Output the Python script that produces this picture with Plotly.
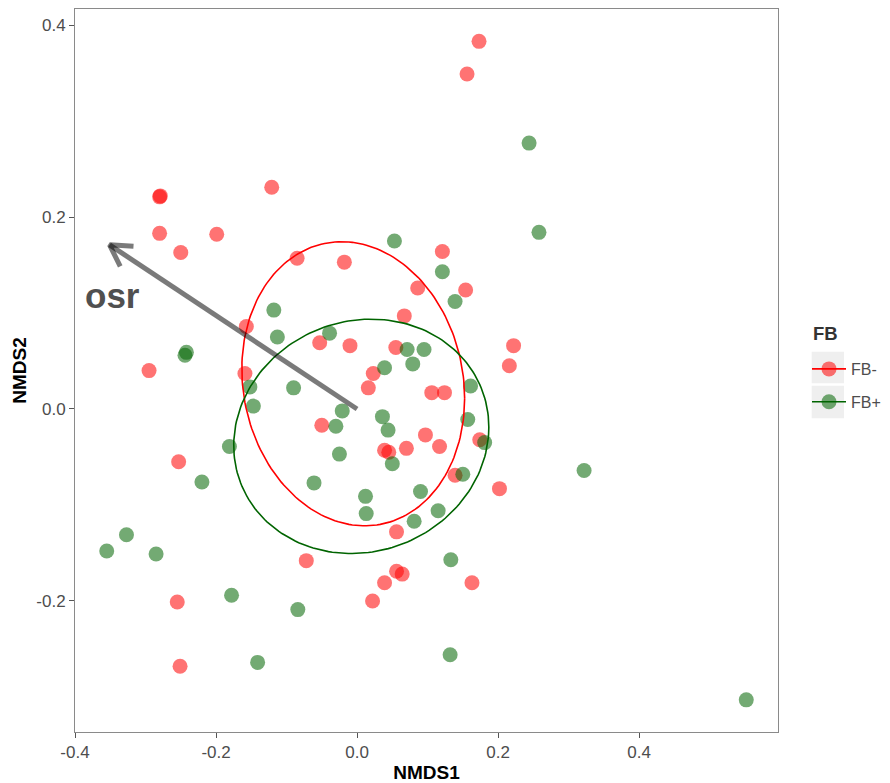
import numpy as np
import plotly.graph_objects as go

# ---------------- data ----------------
fbm_x = [0.173, 0.156, -0.280, -0.279, -0.121, -0.280, -0.199, -0.250, -0.085, -0.018,
         0.121, 0.086, 0.154, -0.157, 0.067, -0.053, -0.010, 0.055, 0.222, 0.216,
         -0.295, -0.159, 0.023, 0.016, 0.106, 0.124, -0.050, 0.097, 0.039, 0.045,
         0.070, 0.117, 0.174, 0.139, 0.202, -0.253, 0.056, -0.072, 0.056, 0.064,
         0.039, 0.163, 0.022, -0.255, -0.251]
fbm_y = [0.383, 0.349, 0.221, 0.222, 0.231, 0.183, 0.182, 0.163, 0.157, 0.153,
         0.164, 0.126, 0.124, 0.086, 0.097, 0.069, 0.066, 0.064, 0.066, 0.045,
         0.040, 0.037, 0.037, 0.022, 0.017, 0.017, -0.017, -0.027, -0.043, -0.045,
         -0.041, -0.039, -0.032, -0.069, -0.083, -0.055, -0.128, -0.158, -0.169, -0.172,
         -0.181, -0.181, -0.200, -0.201, -0.268]

fbp_x = [0.244, 0.258, 0.053, 0.121, 0.139, 0.071, 0.095, 0.079, 0.039, 0.161,
         -0.118, -0.113, -0.039, -0.152, -0.090, -0.147, -0.021, -0.030, -0.181, -0.025,
         -0.061, 0.012, 0.013, 0.036, 0.044, 0.157, 0.181, 0.050, 0.150, 0.090,
         0.115, 0.081, 0.133, 0.132, 0.552, -0.355, -0.327, -0.285, -0.178, -0.084,
         -0.141, -0.244, -0.242, -0.220, 0.322]
fbp_y = [0.277, 0.184, 0.175, 0.143, 0.112, 0.062, 0.062, 0.047, 0.043, 0.024,
         0.103, 0.075, 0.079, 0.023, 0.022, 0.003, -0.002, -0.018, -0.039, -0.047,
         -0.077, -0.091, -0.109, -0.008, -0.022, -0.011, -0.035, -0.057, -0.068, -0.086,
         -0.106, -0.117, -0.157, -0.256, -0.303, -0.148, -0.131, -0.151, -0.194, -0.209,
         -0.264, 0.056, 0.059, -0.076, -0.064]

# 95% ellipse parameters (centre, x/y half-extent, covariance term)
fbm_ell_center = [-0.0054, 0.0263]
fbm_ell_extent = [0.158, 0.148]
fbm_ell_cov = -0.00241
fbp_ell_center = [0.006, -0.0285]
fbp_ell_extent = [0.1809, 0.1221]
fbp_ell_cov = 0.00173

# environmental vector
env_name = "osr"
env_vec = [-0.351, 0.171]

x_ticks = [-0.4, -0.2, 0.0, 0.2, 0.4]
y_ticks = [-0.2, 0.0, 0.2, 0.4]
x_range = [-0.4, 0.597]
y_range = [-0.3365, 0.4167]

# ---------------- layout constants ----------------
W, H = 890, 783
ML, MR, MT, MB = 75, 112, 9, 51
PW, PH = W - ML - MR, H - MT - MB

RED_PT = "rgba(255,0,0,0.55)"
GRN_PT = "rgba(0,100,0,0.55)"
FONT = "Liberation Sans, Arial, sans-serif"


def px2paper_x(px):
    return (px - ML) / PW


def px2paper_y(py):
    return (H - MB - py) / PH


def ellipse(center, extent, cov, n=200):
    S = np.array([[extent[0] ** 2, cov], [cov, extent[1] ** 2]])
    L = np.linalg.cholesky(S)
    t = np.linspace(0, 2 * np.pi, n)
    pts = L @ np.vstack([np.cos(t), np.sin(t)])
    return pts[0] + center[0], pts[1] + center[1]


fig = go.Figure()

fig.add_trace(go.Scatter(x=fbm_x, y=fbm_y, mode="markers",
                         marker=dict(size=15, color=RED_PT, line=dict(width=0)),
                         showlegend=False, hoverinfo="skip"))
fig.add_trace(go.Scatter(x=fbp_x, y=fbp_y, mode="markers",
                         marker=dict(size=15, color=GRN_PT, line=dict(width=0)),
                         showlegend=False, hoverinfo="skip"))

ex, ey = ellipse(fbm_ell_center, fbm_ell_extent, fbm_ell_cov)
fig.add_trace(go.Scatter(x=ex, y=ey, mode="lines", line=dict(color="red", width=1.6),
                         showlegend=False, hoverinfo="skip"))
ex, ey = ellipse(fbp_ell_center, fbp_ell_extent, fbp_ell_cov)
fig.add_trace(go.Scatter(x=ex, y=ey, mode="lines", line=dict(color="darkgreen", width=1.6),
                         showlegend=False, hoverinfo="skip"))

# arrow (open head computed in pixel space)
kx = PW / (x_range[1] - x_range[0])
ky = PH / (y_range[1] - y_range[0])
tip = np.array([env_vec[0] * kx, env_vec[1] * ky])
u = -tip / np.linalg.norm(tip)
arms = []
for ang in (np.radians(30), -np.radians(30)):
    R = np.array([[np.cos(ang), -np.sin(ang)], [np.sin(ang), np.cos(ang)]])
    p = tip + 24 * (R @ u)
    arms.append((p[0] / kx, p[1] / ky))
ax_ = [0, env_vec[0], None, arms[0][0], env_vec[0], arms[1][0]]
ay_ = [0, env_vec[1], None, arms[0][1], env_vec[1], arms[1][1]]
fig.add_trace(go.Scatter(x=ax_, y=ay_, mode="lines",
                         line=dict(color="rgba(0,0,0,0.52)", width=5),
                         showlegend=False, hoverinfo="skip"))

fig.add_annotation(x=env_vec[0] + 0.004, y=env_vec[1] - 0.053, text="<b>" + env_name + "</b>",
                   showarrow=False, xanchor="center", yanchor="middle",
                   font=dict(family=FONT, size=35, color="#505050"))

# legend entries
fig.add_trace(go.Scatter(x=[None], y=[None], mode="lines+markers", name="FB-",
                         legendgroup="a",
                         marker=dict(size=15, color=RED_PT, line=dict(width=0)),
                         line=dict(color="red", width=1.6)))
fig.add_trace(go.Scatter(x=[None], y=[None], mode="lines+markers", name="FB+",
                         legendgroup="b",
                         marker=dict(size=15, color=GRN_PT, line=dict(width=0)),
                         line=dict(color="darkgreen", width=1.6)))

# legend title
fig.add_annotation(xref="paper", yref="paper", x=px2paper_x(811), y=px2paper_y(333),
                   xanchor="left", yanchor="middle", showarrow=False, text="<b>FB</b>",
                   font=dict(family=FONT, size=18.5, color="#333333"))

# grey legend key backgrounds
for y0, y1 in ((351.7, 383.3), (385.7, 418.3)):
    fig.add_shape(type="rect", xref="paper", yref="paper", layer="below",
                  x0=px2paper_x(811.7), x1=px2paper_x(844),
                  y0=px2paper_y(y1), y1=px2paper_y(y0),
                  fillcolor="#efefef", line=dict(width=0))

axis_common = dict(showgrid=False, zeroline=False, showline=True, mirror=True,
                   linecolor="#8a8a8a", linewidth=1, ticks="outside", ticklen=5,
                   tickcolor="#555555", tickwidth=1,
                   tickfont=dict(family=FONT, size=17, color="#4d4d4d"))

fig.update_layout(
    width=W, height=H,
    margin=dict(l=ML, r=MR, t=MT, b=MB, autoexpand=False),
    paper_bgcolor="white", plot_bgcolor="white",
    xaxis=dict(range=x_range, tickvals=x_ticks, ticktext=[f"{v:.1f}" for v in x_ticks],
               title=dict(text="<b>NMDS1</b>", standoff=4,
                          font=dict(family=FONT, size=19, color="black")),
               **axis_common),
    yaxis=dict(range=y_range, tickvals=y_ticks, ticktext=[f"{v:.1f}" for v in y_ticks],
               title=dict(text="<b>NMDS2</b>", standoff=4,
                          font=dict(family=FONT, size=19, color="black")),
               **axis_common),
    legend=dict(x=px2paper_x(807), xanchor="left", y=px2paper_y(352), yanchor="top",
                font=dict(family=FONT, size=16, color="#4d4d4d"),
                itemwidth=34,
                tracegroupgap=9, bgcolor="rgba(0,0,0,0)", traceorder="grouped"),
    showlegend=True,
)

fig.write_html("out.html", config={"displayModeBar": False},
               post_script="document.body.style.margin='0';")
